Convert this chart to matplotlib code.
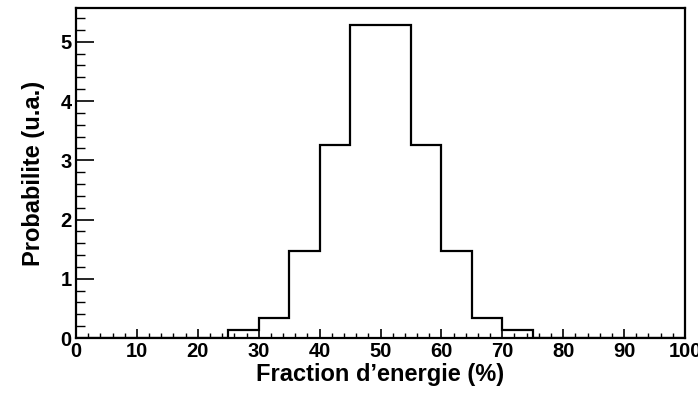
import matplotlib.pyplot as plt
import numpy as np
from matplotlib.ticker import MultipleLocator

plt.rcParams['font.family'] = ['Liberation Sans', 'DejaVu Sans']
plt.rcParams['font.weight'] = 'bold'

# histogram: 20 bins of 5% from 0 to 100
bin_edges = np.arange(0, 105, 5)
counts = [0, 0, 0, 0, 0, 0.13, 0.34, 1.47, 3.26, 5.29,
          5.29, 3.26, 1.47, 0.34, 0.13, 0, 0, 0, 0, 0]

fig = plt.figure(figsize=(6.98, 3.94), dpi=100)
ax = fig.add_axes([76/698, 1 - 338/394, (685-76)/698, (338-8)/394])

ax.stairs(counts, bin_edges, color='black', linewidth=1.6)

ax.set_xlim(0, 100)
ax.set_ylim(0, 5.57)

ax.xaxis.set_major_locator(MultipleLocator(10))
ax.xaxis.set_minor_locator(MultipleLocator(2))
ax.yaxis.set_major_locator(MultipleLocator(1))
ax.yaxis.set_minor_locator(MultipleLocator(0.2))

ax.tick_params(axis='both', which='both', direction='in', labelsize=14.5)
ax.tick_params(axis='y', which='major', length=13, width=1.2, pad=3)
ax.tick_params(axis='y', which='minor', length=6.5, width=1.0)
ax.tick_params(axis='x', which='major', length=6.5, width=1.2, pad=3)
ax.tick_params(axis='x', which='minor', length=3.5, width=1.0)
for lbl in ax.get_xticklabels() + ax.get_yticklabels():
    lbl.set_fontweight('bold')

for s in ax.spines.values():
    s.set_linewidth(1.6)

ax.set_xlabel("Fraction d\u2019energie (%)", fontsize=17, fontweight='bold', labelpad=1)
ax.set_ylabel("Probabilite (u.a.)", fontsize=17, fontweight='bold', labelpad=11)

plt.savefig('out.png', dpi=100)
